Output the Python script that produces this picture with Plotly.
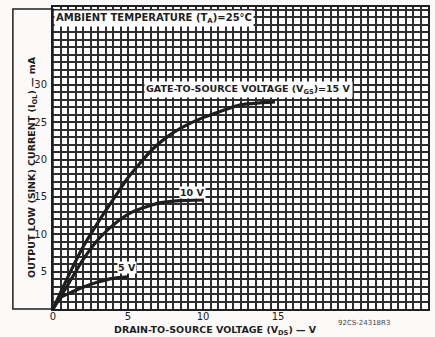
import plotly.graph_objects as go

# Data
vds_15 = [0, 0.9, 2.0, 3.1, 4.3, 4.9, 5.8, 6.7, 7.8, 8.9, 10.0, 11.1, 12.5, 14.8]
iol_15 = [0, 3.9, 8.3, 11.9, 15.5, 17.3, 19.5, 21.5, 23.3, 24.6, 25.6, 26.4, 27.3, 27.7]
vds_10 = [0, 1.1, 2.0, 3.1, 4.3, 5.3, 7.1, 8.5, 10.0]
iol_10 = [0, 3.6, 6.6, 9.5, 11.7, 13.0, 14.2, 14.5, 14.6]
vds_5 = [0, 0.5, 1.3, 2.0, 3.0, 4.0, 5.0]
iol_5 = [0, 1.5, 2.3, 2.9, 3.6, 4.1, 4.3]

x_tickvals = [0, 5, 10, 15]
x_ticktext = ["0", "5", "10", "15"]
y_tickvals = [5, 10, 15, 20, 25, 30]
y_ticktext = ["5", "10", "15", "20", "25", "30"]

INK = "#1e1e1e"
FONT = "DejaVu Sans"

fig = go.Figure()
for xs, ys in [(vds_15, iol_15), (vds_10, iol_10), (vds_5, iol_5)]:
    fig.add_trace(go.Scatter(x=xs, y=ys, mode="lines",
                             line=dict(color=INK, width=3.2, shape="spline", smoothing=0.6),
                             hoverinfo="skip", showlegend=False))

fig.update_layout(
    width=435, height=337,
    margin=dict(l=53, r=7, t=7, b=28),
    paper_bgcolor="#fbfaf8", plot_bgcolor="#ffffff",
    font=dict(family=FONT, color=INK, size=11),
    showlegend=False,
)
fig.update_xaxes(range=[0, 25], tickmode="array", tickvals=x_tickvals, ticktext=x_ticktext,
                 automargin=False,
                 showgrid=True, gridcolor="#2a2a2a", gridwidth=1.9,
                 minor=dict(dtick=0.5, tick0=0, showgrid=True, gridcolor="#2e2e2e", gridwidth=1.7),
                 zeroline=False, showline=True, linecolor=INK, linewidth=2, mirror=True,
                 ticks="", tickfont=dict(size=10, family=FONT, color=INK), ticklabelstandoff=-3)
fig.update_yaxes(range=[0, 40.4], tickmode="array", tickvals=y_tickvals, ticktext=y_ticktext,
                 automargin=False,
                 showgrid=True, gridcolor="#2a2a2a", gridwidth=1.9,
                 minor=dict(dtick=1, tick0=0, showgrid=True, gridcolor="#2e2e2e", gridwidth=1.7),
                 zeroline=False, showline=True, linecolor=INK, linewidth=2, mirror=True,
                 ticks="", tickfont=dict(size=10, family=FONT, color=INK), ticklabelstandoff=2)

# box around y-axis title region
fig.add_shape(type="rect", xref="paper", yref="paper", x0=-0.107, x1=0, y0=0, y1=0.993,
              line=dict(color=INK, width=1.5), layer="below")

fig.add_annotation(xref="paper", yref="paper", x=-0.079, y=0.47, textangle=-90,
                   text="<b>OUTPUT LOW (SINK) CURRENT (I<sub>OL</sub>) — mA</b>", showarrow=False,
                   font=dict(size=9.5, family=FONT, color=INK))
fig.add_annotation(xref="paper", yref="paper", x=0.432, y=-0.071, yanchor="middle",
                   text="<b>DRAIN-TO-SOURCE VOLTAGE (V<sub>DS</sub>) — V</b>", showarrow=False,
                   font=dict(size=9.5, family=FONT, color=INK))
fig.add_annotation(xref="paper", yref="paper", x=0.905, y=-0.045, yanchor="middle",
                   text="92CS-24318R3", showarrow=False,
                   font=dict(size=7, family=FONT, color="#444444"))
fig.add_annotation(xref="paper", yref="paper", x=0.003, y=0.99, xanchor="left", yanchor="top",
                   text="<b>AMBIENT TEMPERATURE (T<sub>A</sub>)=25°C</b>", showarrow=False,
                   bgcolor="#ffffff", borderpad=1,
                   font=dict(size=10, family=FONT, color=INK))
fig.add_annotation(x=13.0, y=29.3, xref="x", yref="y",
                   text="<b>GATE-TO-SOURCE VOLTAGE (V<sub>GS</sub>)=15 V</b>", showarrow=False,
                   bgcolor="#ffffff", borderpad=1,
                   font=dict(size=9.5, family=FONT, color=INK))
fig.add_annotation(x=9.3, y=15.6, xref="x", yref="y", text="<b>10 V</b>", showarrow=False,
                   bgcolor="#ffffff", borderpad=0, font=dict(size=9.5, family=FONT, color=INK))
fig.add_annotation(x=4.9, y=5.5, xref="x", yref="y", text="<b>5 V</b>", showarrow=False,
                   bgcolor="#ffffff", borderpad=0, font=dict(size=9.5, family=FONT, color=INK))

fig.write_html("out.html", config={"displayModeBar": False},
               post_script="document.body.style.margin='0';")
